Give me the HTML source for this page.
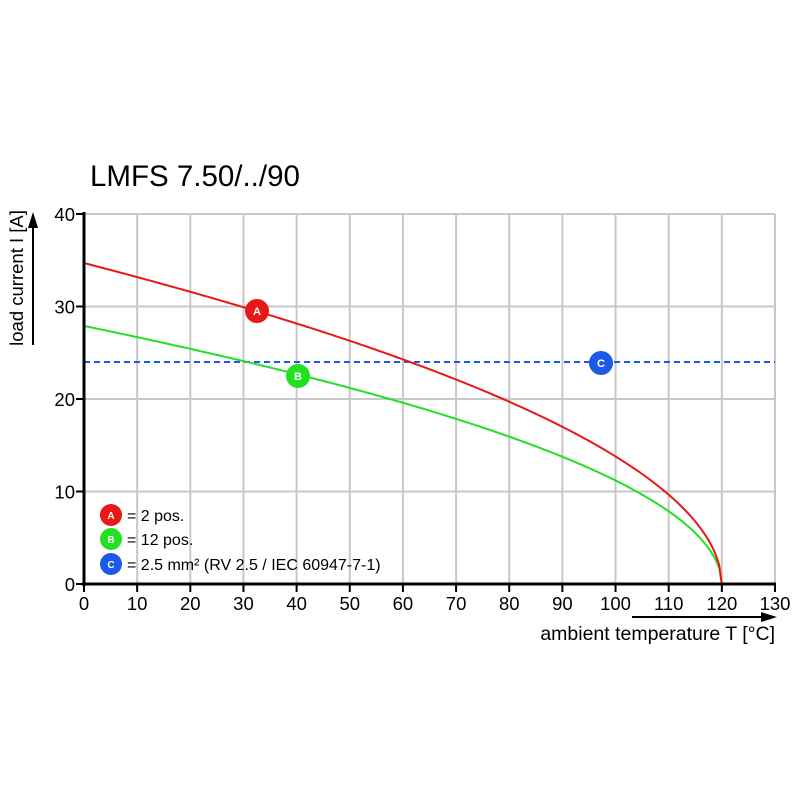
<!DOCTYPE html>
<html><head><style>body{margin:0;background:#fff}svg{display:block}text{font-family:"Liberation Sans",Arial,sans-serif}</style></head>
<body>
<svg id="s" width="800" height="800" viewBox="0 0 800 800" xmlns="http://www.w3.org/2000/svg">
<text x="90" y="186" font-size="29.5">LMFS 7.50/../90</text>
<g id="grid" stroke="#c8c8c8" stroke-width="2"></g>
<g id="ticks" stroke="#000" stroke-width="2"></g>
<line x1="84" y1="362" x2="775" y2="362" stroke="#1a5ae6" stroke-width="2" stroke-dasharray="6,4"/>
<path id="g" fill="none" stroke="#22e022" stroke-width="2"/>
<path id="r" fill="none" stroke="#e81818" stroke-width="2"/>
<line x1="84" y1="212" x2="84" y2="586" stroke="#000" stroke-width="3"/>
<line x1="82" y1="584" x2="776" y2="584" stroke="#000" stroke-width="3"/>
<g id="lab" font-size="18.5"></g>
<line x1="33" y1="345" x2="33" y2="225" stroke="#000" stroke-width="2"/>
<polygon points="33,212 28,228 38,228"/>
<text transform="translate(23,278) rotate(-90)" font-size="18.5" text-anchor="middle">load current I [A]</text>
<line x1="632" y1="617" x2="764" y2="617" stroke="#000" stroke-width="2"/>
<polygon points="777,617 761,612 761,622"/>
<text x="775" y="640" font-size="19.5" text-anchor="end">ambient temperature T [°C]</text>
<g font-weight="bold" fill="#fff" font-size="11" text-anchor="middle">
<circle cx="257" cy="311" r="12" fill="#e81818"/><text x="257" y="315">A</text>
<circle cx="298" cy="376" r="12" fill="#22e022"/><text x="298" y="380">B</text>
<circle cx="601" cy="363" r="12" fill="#1a5ae6"/><text x="601" y="367">C</text>
<circle cx="111" cy="515" r="11" fill="#e81818"/><text x="111" y="519" font-size="10">A</text>
<circle cx="111" cy="539" r="11" fill="#22e022"/><text x="111" y="543" font-size="10">B</text>
<circle cx="111" cy="564" r="11" fill="#1a5ae6"/><text x="111" y="568" font-size="10">C</text>
</g>
<g font-size="16"><text x="127" y="521">= 2 pos.</text><text x="127" y="545">= 12 pos.</text><text x="127" y="570">= 2.5 mm² (RV 2.5 / IEC 60947-7-1)</text></g>
</svg>
<script>
var X=function(t){return 84+t*691/130},Y=function(v){return 584-v*9.25};
var ns="http://www.w3.org/2000/svg",g=document.getElementById('grid'),tk=document.getElementById('ticks'),lb=document.getElementById('lab');
function el(p,n,a){var e=document.createElementNS(ns,n);for(var k in a)e.setAttribute(k,a[k]);p.appendChild(e);return e}
for(var t=10;t<=130;t+=10){el(g,'line',{x1:X(t),y1:214,x2:X(t),y2:584});}
for(var v=10;v<=40;v+=10){el(g,'line',{x1:84,y1:Y(v),x2:775,y2:Y(v)});}
for(var t=0;t<=130;t+=10){el(tk,'line',{x1:X(t),y1:584,x2:X(t),y2:592});var e=el(lb,'text',{x:X(t),y:610,'text-anchor':'middle'});e.textContent=t;}
for(var v=0;v<=40;v+=10){el(tk,'line',{x1:76,y1:Y(v),x2:84,y2:Y(v)});var e=el(lb,'text',{x:75,y:Y(v)+7,'text-anchor':'end'});e.textContent=v;}
function curve(id,a,p){var d='';for(var i=0;i<=240;i++){var t=i*0.5;var v=a*Math.pow(Math.max(0,1-t/120),p);d+=(i?'L':'M')+X(t).toFixed(1)+','+Y(v).toFixed(1);}document.getElementById(id).setAttribute('d',d)}
curve('r',34.7,0.515);curve('g',27.9,0.51);
</script>
</body></html>
